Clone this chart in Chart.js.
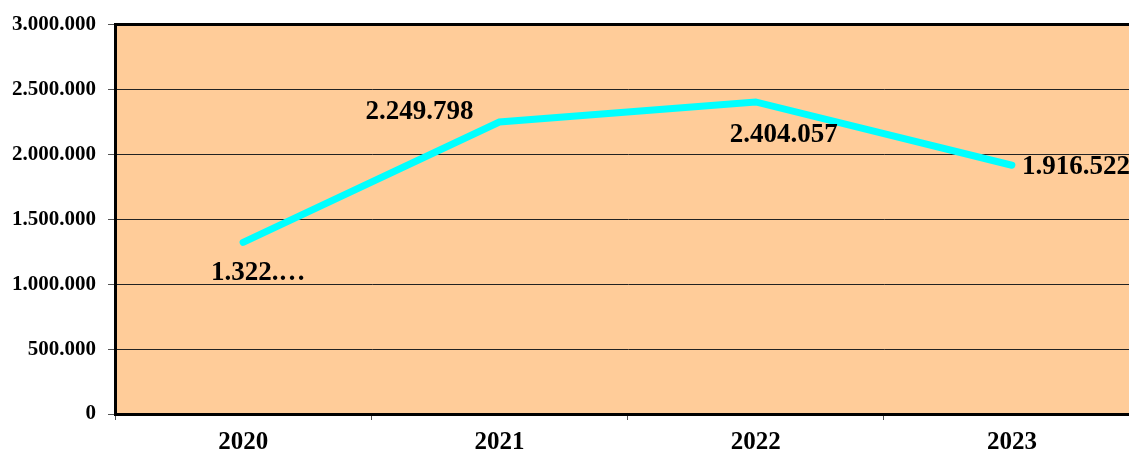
<!DOCTYPE html>
<html>
<head>
<meta charset="utf-8">
<script src="https://cdn.jsdelivr.net/npm/chart.js@4"></script>
<style>
  html, body { margin: 0; padding: 0; background: #fff; overflow: hidden; }
  #wrap { width: 1129px; height: 455px; overflow: hidden; }
</style>
</head>
<body>
<div id="wrap"><canvas id="my-chart" width="1142" height="455"></canvas></div>
<script>
const years = ['2020', '2021', '2022', '2023'];
const values = [1322000, 2249798, 2404057, 1916522];
const pointLabels = ['1.322.…', '2.249.798', '2.404.057', '1.916.522'];
const yTicks = [0, 500000, 1000000, 1500000, 2000000, 2500000, 3000000];

function dots(n) {
   return String(n).replace(/\B(?=(\d{3})+(?!\d))/g, '.');
}

// where each value label sits relative to its point
const labelPlace = [
   { dx: 15, dy: 31, align: 'center' },
   { dx: -80, dy: -10, align: 'center' },
   { dx: 28, dy: 33, align: 'center' },
   { dx: 10, dy: 2, align: 'left' }
];

const valueLabels = {
   id: 'valueLabels',
   afterDatasetsDraw(chart) {
      const ctx = chart.ctx;
      const pts = chart.getDatasetMeta(0).data;
      ctx.save();
      ctx.font = 'bold 27px "Liberation Serif", "Times New Roman", serif';
      ctx.fillStyle = '#000';
      ctx.textBaseline = 'middle';
      pts.forEach((p, i) => {
         const pl = labelPlace[i];
         ctx.textAlign = pl.align;
         ctx.fillText(pointLabels[i], p.x + pl.dx, p.y + pl.dy);
      });
      ctx.restore();
   }
};

const plotBg = {
   id: 'plotBg',
   beforeDraw(chart) {
      const a = chart.chartArea;
      const ctx = chart.ctx;
      ctx.save();
      ctx.fillStyle = '#FFCC99';
      ctx.fillRect(a.left, a.top, a.right - a.left, a.bottom - a.top);
      ctx.restore();
   },
   afterDraw(chart) {
      const a = chart.chartArea;
      const ctx = chart.ctx;
      ctx.save();
      ctx.strokeStyle = '#000';
      ctx.lineWidth = 3;
      ctx.beginPath();
      ctx.moveTo(a.left, a.top);
      ctx.lineTo(a.right, a.top);
      ctx.lineTo(a.right, a.bottom);
      ctx.stroke();
      ctx.restore();
   }
};

const ctx = document.getElementById('my-chart').getContext('2d');

const chart = new Chart(ctx, {
   type: 'line',
   data: {
      labels: years,
      datasets: [
      {
         data: values,
         borderColor: '#00FFFF',
         borderWidth: 7,
         borderCapStyle: 'round',
         borderJoinStyle: 'miter',
         pointRadius: 0,
         tension: 0,
         fill: false
      }
      ]
   },
   options: {
      responsive: false,
      animation: false,
      layout: { padding: { top: 22, right: 2, left: 0, bottom: 0 } },
      plugins: {
         legend: { display: false },
         tooltip: { enabled: false }
      },
      scales: {
         x: {
            offset: true,
            grid: {
               offset: true,
               drawOnChartArea: false,
               tickLength: 6,
               tickColor: '#555'
            },
            border: { display: true, color: '#000', width: 3 },
            ticks: {
               color: '#000',
               padding: 8,
               font: { family: '"Liberation Serif", "Times New Roman", serif', size: 25, weight: 'bold' }
            },
            afterFit(scale) { scale.height = 41; }
         },
         y: {
            min: 0,
            max: 3000000,
            afterBuildTicks(scale) { scale.ticks = yTicks.map(v => ({ value: v })); },
            grid: {
               color: '#222',
               lineWidth: 1,
               tickLength: 7,
               tickColor: '#555'
            },
            border: { display: true, color: '#000', width: 3 },
            ticks: {
               color: '#000',
               padding: 12,
               font: { family: '"Liberation Serif", "Times New Roman", serif', size: 21, weight: 'bold' },
               callback: (v) => dots(v)
            },
            afterFit(scale) { scale.width = 115; }
         }
      }
   },
   plugins: [plotBg, valueLabels]
}); //closes chart = new Chart()
</script>
</body>
</html>
